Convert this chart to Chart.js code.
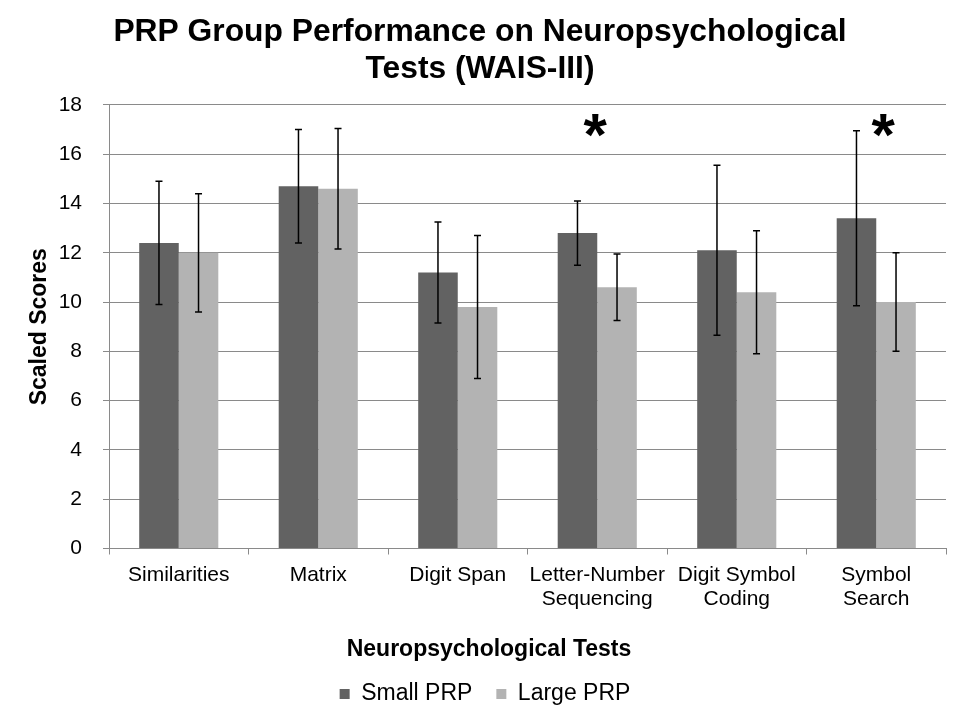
<!DOCTYPE html>
<html>
<head>
<meta charset="utf-8">
<script src="https://cdn.jsdelivr.net/npm/chart.js@4/dist/chart.umd.min.js"></script>
<style>
  html, body { margin: 0; padding: 0; background: #fff; }
  #wrap { width: 960px; height: 720px; }
</style>
</head>
<body>
<div id="wrap"><canvas id="chart" width="960" height="720"></canvas></div>
<script>
const categories = [
    'Similarities',
    'Matrix',
    'Digit Span',
    ['Letter-Number', 'Sequencing'],
    ['Digit Symbol', 'Coding'],
    ['Symbol', 'Search']
];
const seriesNames = ['Small PRP', 'Large PRP'];
const smallPRP = [12.4, 14.7, 11.2, 12.8, 12.1, 13.4];
const largePRP = [12.0, 14.6, 9.8, 10.6, 10.4, 10.0];
const smallErr = [2.5, 2.3, 2.05, 1.3, 3.45, 3.55];
const largeErr = [2.4, 2.45, 2.9, 1.35, 2.5, 2.0];
const yTicks = [0, 2, 4, 6, 8, 10, 12, 14, 16, 18];
// tests marked significant with an asterisk
const sigIndex = [3, 5];
const sigLevel = 17.1;

const FONT = "'Liberation Sans', Arial, sans-serif";
const gridColor = '#8a8a8a';

// error bars drawn from the bar elements and the y scale
const errorBars = {
    id: 'errorBars',
    afterDatasetsDraw(chart) {
        const ctx = chart.ctx;
        const y = chart.scales.y;
        const errs = [smallErr, largeErr];
        ctx.save();
        ctx.strokeStyle = '#000';
        ctx.lineWidth = 1.5;
        chart.data.datasets.forEach(function(ds, di) {
            const meta = chart.getDatasetMeta(di);
            meta.data.forEach(function(bar, i) {
                const v = ds.data[i];
                const e = errs[di][i];
                const top = y.getPixelForValue(v + e);
                const bot = y.getPixelForValue(v - e);
                ctx.beginPath();
                ctx.moveTo(bar.x, top);
                ctx.lineTo(bar.x, bot);
                ctx.moveTo(bar.x - 3.5, top);
                ctx.lineTo(bar.x + 3.5, top);
                ctx.moveTo(bar.x - 3.5, bot);
                ctx.lineTo(bar.x + 3.5, bot);
                ctx.stroke();
            });
        });
        ctx.restore();
    }
};

// significance asterisks + x axis title (centred a bit left of the plot, like the original)
const extras = {
    id: 'extras',
    afterLayout(chart) {
        // title is centred on the page, legend slightly right of centre
        chart.titleBlock.left += 7;
        chart.titleBlock.right += 7;
        chart.legend.left += 12;
        chart.legend.right += 12;
    },
    afterDatasetsDraw(chart) {
        const ctx = chart.ctx;
        const shift = [-2, 7];
        const size = 60;
        ctx.save();
        ctx.fillStyle = '#000';
        ctx.font = 'bold ' + size + 'px ' + FONT;
        ctx.textAlign = 'center';
        ctx.textBaseline = 'alphabetic';
        sigIndex.forEach(function(idx, k) {
            const x = chart.scales.x.getPixelForValue(idx) + shift[k];
            const yc = chart.scales.y.getPixelForValue(sigLevel);
            ctx.fillText('*', x, yc + size * 0.46);
        });

        ctx.font = 'bold 23px ' + FONT;
        ctx.textBaseline = 'middle';
        ctx.fillText('Neuropsychological Tests', 489, 650);
        ctx.restore();
    }
};

const CHdata = {
    labels: categories,
    datasets: [
        { label: seriesNames[0], data: smallPRP, backgroundColor: '#626262' },
        { label: seriesNames[1], data: largePRP, backgroundColor: '#b3b3b3' }
    ]
};

const CHconfig = {
    type: 'bar',
    data: CHdata,
    options: {
        responsive: false,
        animation: false,
        categoryPercentage: 0.567,
        barPercentage: 1.0,
        layout: { padding: { top: 0, right: 14, bottom: 4.5, left: 0 } },
        plugins: {
            title: {
                display: true,
                text: ['PRP Group Performance on Neuropsychological', 'Tests (WAIS-III)'],
                color: '#000',
                font: { family: FONT, size: 31.8, weight: 'bold', lineHeight: 1.163 },
                padding: { top: 13.5, bottom: 17.5 }
            },
            legend: {
                position: 'bottom',
                labels: {
                    color: '#000',
                    font: { family: FONT, size: 23 },
                    boxWidth: 10,
                    boxHeight: 10,
                    padding: 24
                }
            },
            tooltip: { enabled: false }
        },
        scales: {
            x: {
                offset: true,
                grid: {
                    offset: true,
                    drawOnChartArea: false,
                    tickLength: 6,
                    color: gridColor
                },
                border: { color: gridColor, width: 1 },
                ticks: {
                    color: '#000',
                    font: { family: FONT, size: 21, lineHeight: 1.15 },
                    padding: 8.4,
                    maxRotation: 0,
                    autoSkip: false
                },
                afterFit(scale) { scale.height = 110; }
            },
            y: {
                min: 0,
                max: 18,
                afterBuildTicks(scale) {
                    scale.ticks = yTicks.map(function(v) { return { value: v }; });
                },
                grid: { color: gridColor, tickLength: 6, lineWidth: 1 },
                border: { color: gridColor, width: 1 },
                ticks: {
                    color: '#000',
                    font: { family: FONT, size: 21 },
                    padding: 21
                },
                title: {
                    display: true,
                    text: 'Scaled Scores',
                    color: '#000',
                    font: { family: FONT, size: 23, weight: 'bold', lineHeight: 1.2 },
                    padding: { top: 26, bottom: 0 }
                },
                afterFit(scale) { scale.width = 109; }
            }
        }
    },
    plugins: [errorBars, extras]
};

const chart = new Chart(document.getElementById('chart'), CHconfig);
</script>
</body>
</html>
